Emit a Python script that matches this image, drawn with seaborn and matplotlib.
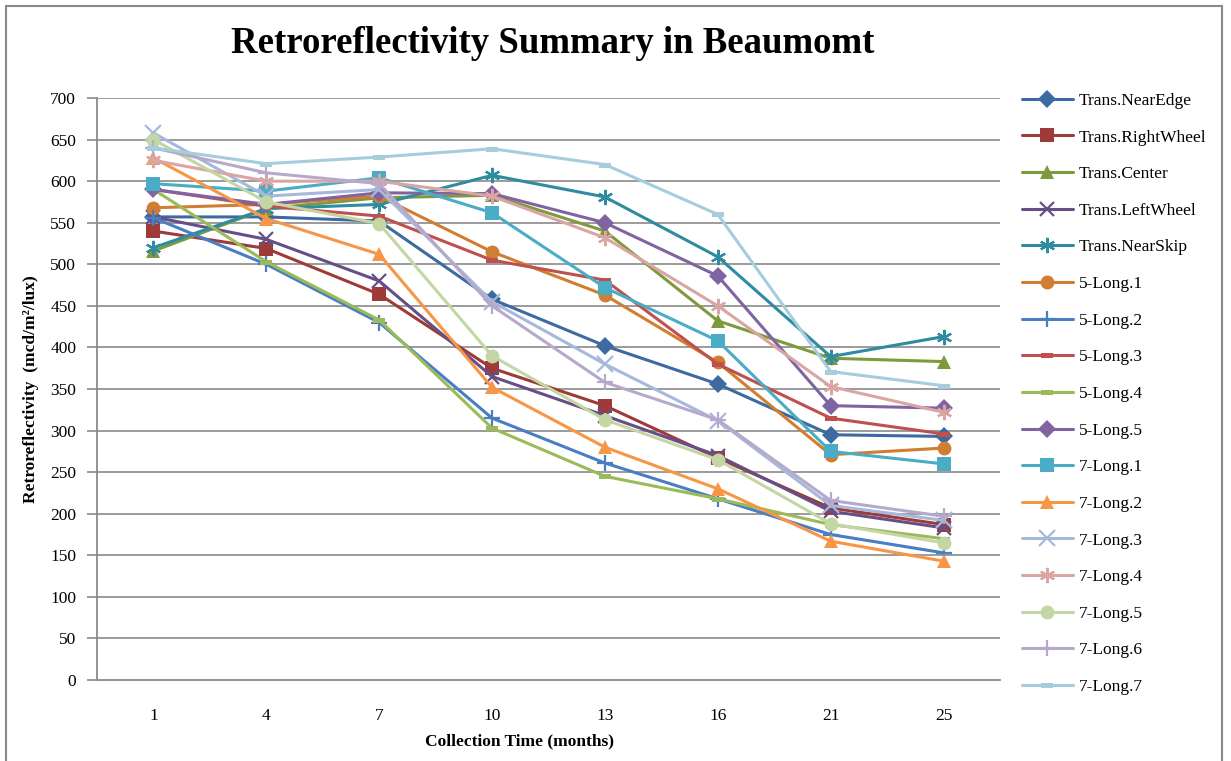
import numpy as np
import pandas as pd
import matplotlib
matplotlib.use('Agg')
import matplotlib.pyplot as plt
import seaborn as sns
from matplotlib.patches import Rectangle

# Data
months = ['1', '4', '7', '10', '13', '16', '21', '25']

trans_near_edge = [557, 557, 552, 458, 402, 356, 295, 293]
trans_right_wheel = [540, 519, 464, 375, 330, 267, 207, 187]
trans_center = [516, 567, 580, 583, 540, 432, 387, 383]
trans_left_wheel = [557, 530, 480, 365, 318, 270, 203, 183]
trans_near_skip = [520, 567, 572, 607, 581, 509, 389, 413]
long5_1 = [568, 572, 582, 515, 463, 382, 271, 279]
long5_2 = [556, 500, 430, 315, 261, 218, 175, 153]
long5_3 = [590, 570, 558, 505, 481, 380, 315, 296]
long5_4 = [590, 503, 433, 303, 245, 218, 187, 170]
long5_5 = [590, 572, 586, 585, 550, 486, 330, 327]
long7_1 = [597, 588, 604, 562, 472, 408, 275, 260]
long7_2 = [628, 555, 512, 352, 280, 230, 167, 143]
long7_3 = [658, 582, 590, 455, 380, 312, 210, 192]
long7_4 = [625, 600, 600, 582, 532, 450, 353, 322]
long7_5 = [650, 575, 549, 390, 313, 265, 188, 165]
long7_6 = [640, 610, 597, 450, 358, 313, 216, 197]
long7_7 = [640, 621, 629, 639, 620, 560, 371, 354]

series_names = ['Trans.NearEdge', 'Trans.RightWheel', 'Trans.Center', 'Trans.LeftWheel',
                'Trans.NearSkip', '5-Long.1', '5-Long.2', '5-Long.3', '5-Long.4', '5-Long.5',
                '7-Long.1', '7-Long.2', '7-Long.3', '7-Long.4', '7-Long.5', '7-Long.6', '7-Long.7']
series_values = [trans_near_edge, trans_right_wheel, trans_center, trans_left_wheel,
                 trans_near_skip, long5_1, long5_2, long5_3, long5_4, long5_5,
                 long7_1, long7_2, long7_3, long7_4, long7_5, long7_6, long7_7]

colors = ['#3D6AA1', '#9E3B38', '#7F9A3D', '#674F86', '#2F8BA0', '#D07E31', '#4A7EC3',
          '#C0504D', '#9BBB59', '#8064A2', '#4BACC6', '#F79646', '#A6B9DC', '#D9A6A4',
          '#C3D6A4', '#B7A9CB', '#A5CDDB']

dash = [(-1, -0.4), (1, -0.4), (1, 0.4), (-1, 0.4)]
asterisk = (6, 2, 0)
markers = ['D', 's', '^', 'x', asterisk, 'o', '+', dash, dash, 'D',
           's', '^', 'x', asterisk, 'o', '+', dash]
msizes = [9, 10, 10, 10, 11, 10, 11, 9, 9, 9, 10, 10, 11, 11, 10, 11, 9]

df = pd.concat([pd.DataFrame({'Month': months, 'Value': v, 'Series': n})
                for n, v in zip(series_names, series_values)], ignore_index=True)

sns.set_theme(style="white")
plt.rcParams['font.family'] = ['Liberation Serif', 'DejaVu Serif']
plt.rcParams['text.color'] = 'black'
plt.rcParams['axes.labelcolor'] = 'black'

fig = plt.figure(figsize=(12.31, 7.61), dpi=100)
ax = fig.add_axes([0.0788, 0.1064, 0.7335, 0.7648])

grid_col = '#8A8A8A'
for y in range(50, 701, 50):
    ax.axhline(y, color=grid_col, lw=1.2, zorder=0)

for name, col, mk, ms in zip(series_names, colors, markers, msizes):
    sub = df[df['Series'] == name]
    mew = 1.6 if mk in ('x', '+', asterisk) else 0
    sns.lineplot(data=sub, x='Month', y='Value', ax=ax, color=col, lw=2.2,
                 marker=mk, markersize=ms, markeredgewidth=mew,
                 markeredgecolor=col, markerfacecolor=col, label=name,
                 sort=False)

ax.set_ylim(0, 700)
ax.set_xlim(-0.5, len(months) - 0.5)
ax.set_yticks(range(0, 701, 50))
for s in ['top', 'right']:
    ax.spines[s].set_visible(False)
for s in ['left', 'bottom']:
    ax.spines[s].set_color(grid_col)
    ax.spines[s].set_linewidth(1.3)
ax.tick_params(axis='y', left=True, length=7, color=grid_col, width=1.2,
               labelsize=12.5, pad=8, labelcolor='black')
ax.tick_params(axis='x', bottom=False, labelsize=12.5, pad=14, labelcolor='black')

ax.set_xlabel('Collection Time (months)', fontsize=12.5, fontweight='bold')
ax.xaxis.set_label_coords(0.468, -0.091)
ax.set_ylabel('Retroreflectivity  (mcd/m\u00b2/lux)', fontsize=12.5, fontweight='bold')
ax.yaxis.set_label_coords(-0.064, 0.5)

fig.text(0.449, 0.943, 'Retroreflectivity Summary in Beaumomt', ha='center', va='center',
         fontsize=26.5, fontweight='bold', color='black')

leg = ax.legend(loc='upper left', bbox_to_anchor=(1.017, 1.021), frameon=False,
                fontsize=12.5, handlelength=2.9, labelspacing=1.18, handletextpad=0.35,
                borderaxespad=0)

fig.patches.append(Rectangle((6 / 1231, -0.01), (1222 - 6) / 1231, 1 - 6 / 761 + 0.01,
                             transform=fig.transFigure, fill=False, edgecolor='#8A8A8A',
                             lw=1.5))

plt.savefig('out.png', dpi=100)
plt.close()
